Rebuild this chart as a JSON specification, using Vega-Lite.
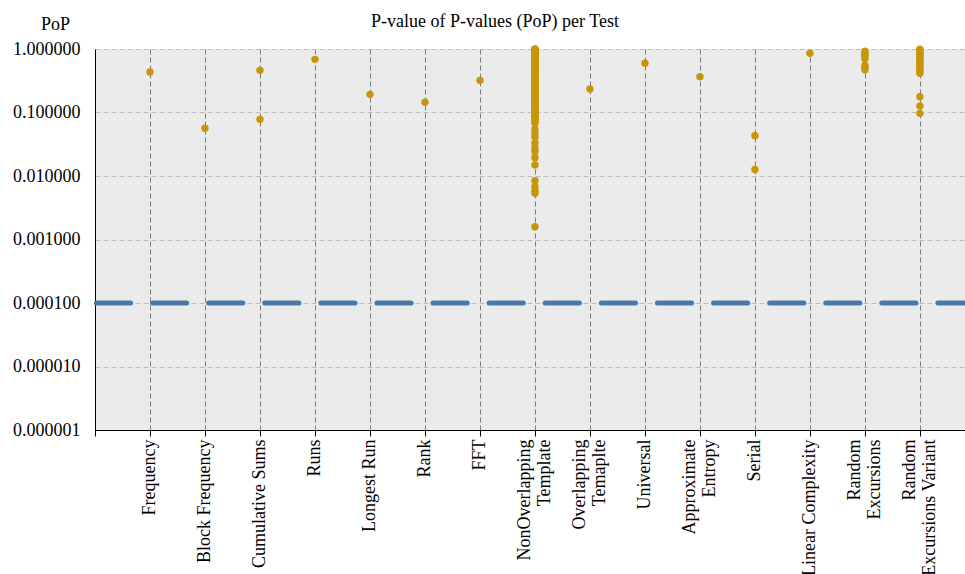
{
  "$schema": "https://vega.github.io/schema/vega-lite/v6.json",
  "width": 870,
  "height": 381,
  "autosize": {"type": "none"},
  "padding": {"left": 95, "top": 49, "right": 0, "bottom": 144},
  "title": {"text": "P-value of P-values (PoP) per Test", "font": "Liberation Serif", "fontSize": 18, "fontWeight": "normal", "color": "#000000", "anchor": "middle", "dx": -35, "dy": 20},
  "config": {"view": {"fill": "#ebebeb", "stroke": null}, "font": "Liberation Serif"},
  "layer": [
    {
      "data": {"values": [{"t": 0.0001}]},
      "mark": {"type": "rule", "color": "#4a79a8", "strokeWidth": 5, "strokeDash": [34.2, 21.9], "strokeCap": "round", "strokeDashOffset": 7.1},
      "encoding": {"y": {"field": "t", "type": "quantitative"}}
    },
    {
      "data": {"values": [
        {"test": "Frequency", "idx": 1, "pop": 0.434},
        {"test": "Block Frequency", "idx": 2, "pop": 0.0564},
        {"test": "Cumulative Sums", "idx": 3, "pop": 0.461},
        {"test": "Cumulative Sums", "idx": 3, "pop": 0.078},
        {"test": "Runs", "idx": 4, "pop": 0.687},
        {"test": "Longest Run", "idx": 5, "pop": 0.193},
        {"test": "Rank", "idx": 6, "pop": 0.145},
        {"test": "FFT", "idx": 7, "pop": 0.321},
        {"test": "NonOverlapping Template", "idx": 8, "pop": 0.068},
        {"test": "NonOverlapping Template", "idx": 8, "pop": 0.072},
        {"test": "NonOverlapping Template", "idx": 8, "pop": 0.075},
        {"test": "NonOverlapping Template", "idx": 8, "pop": 0.079},
        {"test": "NonOverlapping Template", "idx": 8, "pop": 0.083},
        {"test": "NonOverlapping Template", "idx": 8, "pop": 0.088},
        {"test": "NonOverlapping Template", "idx": 8, "pop": 0.091},
        {"test": "NonOverlapping Template", "idx": 8, "pop": 0.095},
        {"test": "NonOverlapping Template", "idx": 8, "pop": 0.099},
        {"test": "NonOverlapping Template", "idx": 8, "pop": 0.104},
        {"test": "NonOverlapping Template", "idx": 8, "pop": 0.109},
        {"test": "NonOverlapping Template", "idx": 8, "pop": 0.113},
        {"test": "NonOverlapping Template", "idx": 8, "pop": 0.118},
        {"test": "NonOverlapping Template", "idx": 8, "pop": 0.124},
        {"test": "NonOverlapping Template", "idx": 8, "pop": 0.129},
        {"test": "NonOverlapping Template", "idx": 8, "pop": 0.135},
        {"test": "NonOverlapping Template", "idx": 8, "pop": 0.141},
        {"test": "NonOverlapping Template", "idx": 8, "pop": 0.146},
        {"test": "NonOverlapping Template", "idx": 8, "pop": 0.152},
        {"test": "NonOverlapping Template", "idx": 8, "pop": 0.159},
        {"test": "NonOverlapping Template", "idx": 8, "pop": 0.165},
        {"test": "NonOverlapping Template", "idx": 8, "pop": 0.171},
        {"test": "NonOverlapping Template", "idx": 8, "pop": 0.178},
        {"test": "NonOverlapping Template", "idx": 8, "pop": 0.186},
        {"test": "NonOverlapping Template", "idx": 8, "pop": 0.193},
        {"test": "NonOverlapping Template", "idx": 8, "pop": 0.201},
        {"test": "NonOverlapping Template", "idx": 8, "pop": 0.209},
        {"test": "NonOverlapping Template", "idx": 8, "pop": 0.217},
        {"test": "NonOverlapping Template", "idx": 8, "pop": 0.226},
        {"test": "NonOverlapping Template", "idx": 8, "pop": 0.234},
        {"test": "NonOverlapping Template", "idx": 8, "pop": 0.243},
        {"test": "NonOverlapping Template", "idx": 8, "pop": 0.251},
        {"test": "NonOverlapping Template", "idx": 8, "pop": 0.262},
        {"test": "NonOverlapping Template", "idx": 8, "pop": 0.271},
        {"test": "NonOverlapping Template", "idx": 8, "pop": 0.283},
        {"test": "NonOverlapping Template", "idx": 8, "pop": 0.292},
        {"test": "NonOverlapping Template", "idx": 8, "pop": 0.304},
        {"test": "NonOverlapping Template", "idx": 8, "pop": 0.315},
        {"test": "NonOverlapping Template", "idx": 8, "pop": 0.326},
        {"test": "NonOverlapping Template", "idx": 8, "pop": 0.337},
        {"test": "NonOverlapping Template", "idx": 8, "pop": 0.349},
        {"test": "NonOverlapping Template", "idx": 8, "pop": 0.361},
        {"test": "NonOverlapping Template", "idx": 8, "pop": 0.372},
        {"test": "NonOverlapping Template", "idx": 8, "pop": 0.385},
        {"test": "NonOverlapping Template", "idx": 8, "pop": 0.398},
        {"test": "NonOverlapping Template", "idx": 8, "pop": 0.411},
        {"test": "NonOverlapping Template", "idx": 8, "pop": 0.424},
        {"test": "NonOverlapping Template", "idx": 8, "pop": 0.437},
        {"test": "NonOverlapping Template", "idx": 8, "pop": 0.451},
        {"test": "NonOverlapping Template", "idx": 8, "pop": 0.466},
        {"test": "NonOverlapping Template", "idx": 8, "pop": 0.479},
        {"test": "NonOverlapping Template", "idx": 8, "pop": 0.494},
        {"test": "NonOverlapping Template", "idx": 8, "pop": 0.508},
        {"test": "NonOverlapping Template", "idx": 8, "pop": 0.523},
        {"test": "NonOverlapping Template", "idx": 8, "pop": 0.537},
        {"test": "NonOverlapping Template", "idx": 8, "pop": 0.552},
        {"test": "NonOverlapping Template", "idx": 8, "pop": 0.568},
        {"test": "NonOverlapping Template", "idx": 8, "pop": 0.583},
        {"test": "NonOverlapping Template", "idx": 8, "pop": 0.599},
        {"test": "NonOverlapping Template", "idx": 8, "pop": 0.614},
        {"test": "NonOverlapping Template", "idx": 8, "pop": 0.631},
        {"test": "NonOverlapping Template", "idx": 8, "pop": 0.647},
        {"test": "NonOverlapping Template", "idx": 8, "pop": 0.662},
        {"test": "NonOverlapping Template", "idx": 8, "pop": 0.679},
        {"test": "NonOverlapping Template", "idx": 8, "pop": 0.696},
        {"test": "NonOverlapping Template", "idx": 8, "pop": 0.713},
        {"test": "NonOverlapping Template", "idx": 8, "pop": 0.729},
        {"test": "NonOverlapping Template", "idx": 8, "pop": 0.746},
        {"test": "NonOverlapping Template", "idx": 8, "pop": 0.763},
        {"test": "NonOverlapping Template", "idx": 8, "pop": 0.781},
        {"test": "NonOverlapping Template", "idx": 8, "pop": 0.798},
        {"test": "NonOverlapping Template", "idx": 8, "pop": 0.816},
        {"test": "NonOverlapping Template", "idx": 8, "pop": 0.834},
        {"test": "NonOverlapping Template", "idx": 8, "pop": 0.851},
        {"test": "NonOverlapping Template", "idx": 8, "pop": 0.869},
        {"test": "NonOverlapping Template", "idx": 8, "pop": 0.887},
        {"test": "NonOverlapping Template", "idx": 8, "pop": 0.904},
        {"test": "NonOverlapping Template", "idx": 8, "pop": 0.921},
        {"test": "NonOverlapping Template", "idx": 8, "pop": 0.938},
        {"test": "NonOverlapping Template", "idx": 8, "pop": 0.955},
        {"test": "NonOverlapping Template", "idx": 8, "pop": 0.969},
        {"test": "NonOverlapping Template", "idx": 8, "pop": 0.982},
        {"test": "NonOverlapping Template", "idx": 8, "pop": 0.991},
        {"test": "NonOverlapping Template", "idx": 8, "pop": 0.997},
        {"test": "NonOverlapping Template", "idx": 8, "pop": 0.0544},
        {"test": "NonOverlapping Template", "idx": 8, "pop": 0.0466},
        {"test": "NonOverlapping Template", "idx": 8, "pop": 0.0407},
        {"test": "NonOverlapping Template", "idx": 8, "pop": 0.0327},
        {"test": "NonOverlapping Template", "idx": 8, "pop": 0.0273},
        {"test": "NonOverlapping Template", "idx": 8, "pop": 0.0242},
        {"test": "NonOverlapping Template", "idx": 8, "pop": 0.0194},
        {"test": "NonOverlapping Template", "idx": 8, "pop": 0.0149},
        {"test": "NonOverlapping Template", "idx": 8, "pop": 0.00843},
        {"test": "NonOverlapping Template", "idx": 8, "pop": 0.00678},
        {"test": "NonOverlapping Template", "idx": 8, "pop": 0.0059},
        {"test": "NonOverlapping Template", "idx": 8, "pop": 0.00534},
        {"test": "NonOverlapping Template", "idx": 8, "pop": 0.00159},
        {"test": "Overlapping Temaplte", "idx": 9, "pop": 0.234},
        {"test": "Universal", "idx": 10, "pop": 0.595},
        {"test": "Approximate Entropy", "idx": 11, "pop": 0.366},
        {"test": "Serial", "idx": 12, "pop": 0.0431},
        {"test": "Serial", "idx": 12, "pop": 0.0127},
        {"test": "Linear Complexity", "idx": 13, "pop": 0.855},
        {"test": "Random Excursions", "idx": 14, "pop": 0.92},
        {"test": "Random Excursions", "idx": 14, "pop": 0.87},
        {"test": "Random Excursions", "idx": 14, "pop": 0.82},
        {"test": "Random Excursions", "idx": 14, "pop": 0.76},
        {"test": "Random Excursions", "idx": 14, "pop": 0.70},
        {"test": "Random Excursions", "idx": 14, "pop": 0.55},
        {"test": "Random Excursions", "idx": 14, "pop": 0.51},
        {"test": "Random Excursions", "idx": 14, "pop": 0.47},
        {"test": "Random Excursions Variant", "idx": 15, "pop": 0.99},
        {"test": "Random Excursions Variant", "idx": 15, "pop": 0.95},
        {"test": "Random Excursions Variant", "idx": 15, "pop": 0.91},
        {"test": "Random Excursions Variant", "idx": 15, "pop": 0.87},
        {"test": "Random Excursions Variant", "idx": 15, "pop": 0.82},
        {"test": "Random Excursions Variant", "idx": 15, "pop": 0.78},
        {"test": "Random Excursions Variant", "idx": 15, "pop": 0.73},
        {"test": "Random Excursions Variant", "idx": 15, "pop": 0.69},
        {"test": "Random Excursions Variant", "idx": 15, "pop": 0.65},
        {"test": "Random Excursions Variant", "idx": 15, "pop": 0.61},
        {"test": "Random Excursions Variant", "idx": 15, "pop": 0.57},
        {"test": "Random Excursions Variant", "idx": 15, "pop": 0.53},
        {"test": "Random Excursions Variant", "idx": 15, "pop": 0.49},
        {"test": "Random Excursions Variant", "idx": 15, "pop": 0.45},
        {"test": "Random Excursions Variant", "idx": 15, "pop": 0.415},
        {"test": "Random Excursions Variant", "idx": 15, "pop": 0.177},
        {"test": "Random Excursions Variant", "idx": 15, "pop": 0.127},
        {"test": "Random Excursions Variant", "idx": 15, "pop": 0.097}
      ]},
      "mark": {"type": "circle", "color": "#c8960a", "opacity": 1, "size": 55},
      "encoding": {
        "x": {
          "field": "idx", "type": "quantitative",
          "scale": {"domain": [0, 15.82], "nice": false, "zero": false},
          "axis": {
            "title": null,
            "values": [0, 1, 2, 3, 4, 5, 6, 7, 8, 9, 10, 11, 12, 13, 14, 15],
            "labelExpr": "[[''], ['Frequency'], ['Block Frequency'], ['Cumulative Sums'], ['Runs'], ['Longest Run'], ['Rank'], ['FFT'], ['NonOverlapping', 'Template'], ['Overlapping', 'Temaplte'], ['Universal'], ['Approximate', 'Entropy'], ['Serial'], ['Linear Complexity'], ['Random', 'Excursions'], ['Random', 'Excursions Variant']][datum.value]",
            "labelAngle": 270,
            "labelAlign": "right",
            "labelBaseline": "middle",
            "labelOffset": {"condition": {"test": "indexof([8, 9, 11, 14, 15], datum.value) >= 0", "value": -10}, "value": 0},
            "labelFont": "Liberation Serif",
            "labelFontSize": 18,
            "labelLineHeight": 20,
            "labelColor": "#000000",
            "labelPadding": 3,
            "labelOverlap": false,
            "labelBound": false,
            "labelFlush": false,
            "tickColor": "#000000",
            "tickSize": 6,
            "domainColor": "#000000",
            "gridColor": "#7a7a7a",
            "gridDash": [5, 3],
            "gridWidth": 1
          }
        },
        "y": {
          "field": "pop", "type": "quantitative",
          "scale": {"type": "log", "domain": [0.000001, 1], "nice": false},
          "axis": {
            "title": "PoP",
            "titleAngle": 0,
            "titleX": -40,
            "titleY": -25,
            "titleAlign": "center",
            "titleBaseline": "middle",
            "titleFont": "Liberation Serif",
            "titleFontSize": 18,
            "titleFontWeight": "normal",
            "titleColor": "#000000",
            "values": [0.000001, 0.00001, 0.0001, 0.001, 0.01, 0.1, 1],
            "format": ".6f",
            "labelFont": "Liberation Serif",
            "labelFontSize": 18,
            "labelColor": "#000000",
            "labelPadding": 15,
            "ticks": false,
            "labelOverlap": false,
            "labelFlush": false,
            "labelBound": false,
            "domainColor": "#000000",
            "gridColor": "#bcbcbc",
            "gridDash": [5, 3],
            "gridWidth": 1
          }
        }
      }
    }
  ]
}
